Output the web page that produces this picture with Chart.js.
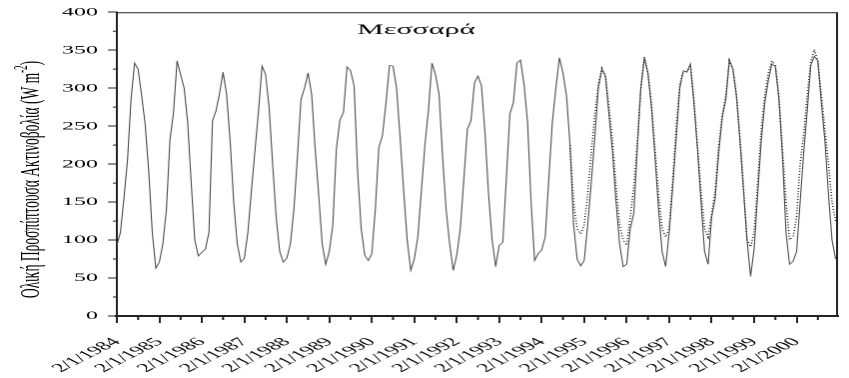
<!DOCTYPE html>
<html>
<head>
<meta charset="utf-8">
<script src="https://cdn.jsdelivr.net/npm/chart.js@4.4.1/dist/chart.umd.min.js"></script>
<style>
  html, body { margin: 0; padding: 0; background: #fff; overflow: hidden; }
  /* the reference is a horizontally stretched figure, so draw narrow and stretch */
  #wrap { width: 425px; height: 378px; transform: scaleX(1.99765); transform-origin: 0 0; }
  #myChart { width: 425px; height: 378px; display: block; }
</style>
</head>
<body>
<div id="wrap"><canvas id="myChart" width="425" height="378"></canvas></div>
<script>
// monthly values, Jan 1984 .. Dec 2000 (one line per year)
const measured = [
  93,110,155,205,285,333,325,290,252,190,110,63,
  71,95,140,232,268,336,318,300,255,175,100,79,
  84,88,110,257,270,293,321,292,230,150,95,71,
  76,110,165,218,270,329,318,275,200,130,85,71,
  76,95,140,210,285,300,320,292,220,160,95,68,
  85,120,220,258,268,328,323,303,190,115,80,73,
  82,140,222,237,280,330,329,300,235,165,100,60,
  75,104,165,225,270,333,318,292,210,140,95,60,
  80,115,180,246,257,307,316,303,240,160,100,65,
  93,97,180,266,281,333,337,305,255,150,73,82,
  87,104,180,255,300,340,320,290,225,120,75,66,
  73,120,175,235,300,325,316,265,215,150,95,65,
  68,115,135,220,300,340,320,275,210,140,85,65,
  110,170,235,300,323,321,332,280,220,150,85,68,
  130,155,215,262,285,337,325,290,230,165,100,52,
  88,160,230,280,310,332,328,285,210,110,68,72,
  85,150,215,270,330,342,336,280,230,160,100,75
]

// dotted series, starts Sep 1994
const modelStart = 128
const modelled = [
  225,150,115,108,
  120,160,215,265,305,326,316,275,230,170,120,100,
  93,130,170,230,300,341,320,280,220,160,115,104,
  115,180,250,305,322,322,330,285,225,165,115,104,
  135,165,225,265,290,336,325,290,235,170,100,91,
  110,175,245,290,320,336,330,290,220,150,100,105,
  130,200,240,290,335,351,335,290,245,200,150,125
]

const yearLabels = ['2/1/1984','2/1/1985','2/1/1986','2/1/1987','2/1/1988','2/1/1989','2/1/1990','2/1/1991','2/1/1992','2/1/1993','2/1/1994','2/1/1995','2/1/1996','2/1/1997','2/1/1998','2/1/1999','2/1/2000']
const minorX = [6,18,30,42,54,66,78,90,102,114,126,138,150,162,174,186,198]
const minorY = [25,75,125,175,225,275,325,375]
const stationName = 'Μεσσαρά'
const axisTitle = 'Ολική Προσπίπτουσα Ακτινοβολία (W m'

measuredPts = measured.map((v,i) => ({x:i, y:v}))
modelledPts = modelled.map((v,i) => ({x:i+modelStart, y:v}))

const serif = '"Liberation Serif", "Times New Roman", serif'
const inkColor = '#222'

const extras = {
  id: 'extras',
  afterDraw(chart){
    const ctx = chart.ctx
    const a = chart.chartArea
    const xs = chart.scales.x
    const ys = chart.scales.y
    ctx.save()
    ctx.strokeStyle = inkColor
    ctx.lineWidth = 1
    // top + right frame
    ctx.beginPath()
    ctx.moveTo(a.left, a.top + 0.5)
    ctx.lineTo(a.right - 0.5, a.top + 0.5)
    ctx.lineTo(a.right - 0.5, a.bottom)
    ctx.stroke()
    // minor ticks
    ctx.beginPath()
    minorX.forEach(v => {
      const px = xs.getPixelForValue(v)
      ctx.moveTo(px, a.bottom)
      ctx.lineTo(px, a.bottom + 4)
    })
    minorY.forEach(v => {
      const py = ys.getPixelForValue(v)
      ctx.moveTo(a.left, py)
      ctx.lineTo(a.left - 2, py)
    })
    ctx.stroke()
    // station name inside plot
    ctx.fillStyle = '#000'
    ctx.font = '15px ' + serif
    ctx.textAlign = 'center'
    ctx.textBaseline = 'alphabetic'
    ctx.fillText(stationName, a.left + 0.415 * (a.right - a.left), 34)
    // y axis title with superscript
    ctx.translate(16, 179.5)
    ctx.rotate(-Math.PI / 2)
    ctx.textBaseline = 'middle'
    ctx.textAlign = 'left'
    ctx.font = '13.5px ' + serif
    const w1 = ctx.measureText(axisTitle).width
    const w3 = ctx.measureText(')').width
    ctx.font = '9px ' + serif
    const w2 = ctx.measureText('-2').width
    let pos = -(w1 + w2 + w3) / 2
    ctx.font = '13.5px ' + serif
    ctx.fillText(axisTitle, pos, 0)
    pos += w1
    ctx.font = '9px ' + serif
    ctx.fillText('-2', pos, -5)
    pos += w2
    ctx.font = '13.5px ' + serif
    ctx.fillText(')', pos, 0)
    ctx.restore()
  }
}

new Chart(document.getElementById('myChart'), {
  type: 'line',
  data: {
    datasets: [
      {
        label: 'measured',
        data: measuredPts,
        borderColor: '#4a4a4a',
        borderWidth: 0.55,
        pointRadius: 0,
        tension: 0
      },
      {
        label: 'modelled',
        data: modelledPts,
        borderColor: '#000',
        borderWidth: 0.8,
        borderDash: [0.8, 2],
        pointRadius: 0,
        tension: 0
      }
    ]
  },
  options: {
    responsive: false,
    maintainAspectRatio: false,
    devicePixelRatio: 2,
    animation: false,
    layout: { padding: { left: 0, right: 5.5, top: 11, bottom: 0 } },
    plugins: {
      legend: { display: false },
      tooltip: { enabled: false }
    },
    scales: {
      x: {
        type: 'linear',
        min: 0,
        max: 203.7,
        afterFit: (scale) => { scale.height = 62 },
        border: { color: inkColor, width: 2 },
        grid: {
          drawOnChartArea: false,
          tickLength: 7,
          tickColor: inkColor,
          tickWidth: 1
        },
        ticks: {
          stepSize: 12,
          includeBounds: false,
          autoSkip: false,
          maxRotation: 45,
          minRotation: 45,
          padding: 12,
          color: '#000',
          font: { family: serif, size: 12 },
          callback: (v) => yearLabels[v / 12] || ''
        }
      },
      y: {
        min: 0,
        max: 400,
        afterFit: (scale) => { scale.width = 58.5 },
        border: { color: inkColor, width: 1 },
        grid: {
          drawOnChartArea: false,
          tickLength: 4.5,
          tickColor: inkColor,
          tickWidth: 1
        },
        ticks: {
          stepSize: 50,
          padding: 5,
          color: '#000',
          font: { family: serif, size: 12 }
        }
      }
    }
  },
  plugins: [extras]
})
</script>
</body>
</html>
